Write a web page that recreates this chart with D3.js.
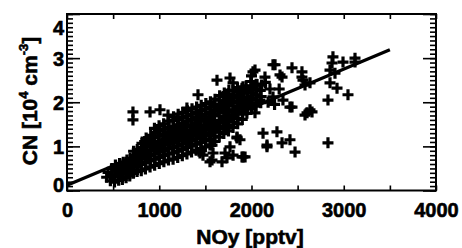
<!DOCTYPE html>
<html>
<head>
    <title>CN vs NOy</title>
    <script src="https://cdn.jsdelivr.net/npm/d3@7"></script>
    <meta charset="utf-8" />
    <style>
        body { margin: 0; background: #fff; }
        text { font-family: "Liberation Sans", Arial, sans-serif; font-weight: bold; fill: #000; stroke: #000; stroke-width: 0.6px; }
    </style>
</head>
<body>
    <script>
        // dense cloud of points along the fit [NOy pptv, CN 1e4 cm-3]
        var cloud = [
            [430,0.30],[445,0.41],[470,0.22],[485,0.35],[490,0.50],[515,0.19],[520,0.31],[530,0.44],[525,0.58],
            [560,0.23],[565,0.36],[555,0.49],[570,0.61],[600,0.25],[605,0.38],[595,0.52],[610,0.64],
            [640,0.29],[645,0.42],[635,0.55],[650,0.69],[680,0.33],[690,0.47],[675,0.60],[685,0.73],
            [720,0.39],[725,0.53],[715,0.65],[730,0.79],[722,0.89],
            [760,0.43],[765,0.57],[755,0.69],[770,0.81],[762,0.93],
            [805,0.45],[800,0.59],[810,0.71],[795,0.84],[805,0.97],[812,1.07],
            [850,0.49],[855,0.63],[845,0.75],[860,0.87],[850,0.99],[842,1.11],[858,1.19],
            [900,0.53],[905,0.67],[895,0.79],[910,0.91],[900,1.03],[892,1.15],[908,1.25],
            [950,0.57],[955,0.71],[945,0.83],[960,0.95],[950,1.07],[942,1.19],[958,1.31],[948,1.41],
            [1000,0.61],[1005,0.75],[995,0.87],[1010,0.99],[1000,1.11],[992,1.23],[1008,1.35],[998,1.47],
            [1050,0.65],[1055,0.79],[1045,0.91],[1060,1.03],[1050,1.15],[1042,1.27],[1058,1.39],[1048,1.51],
            [1100,0.69],[1105,0.83],[1095,0.95],[1110,1.07],[1100,1.19],[1092,1.31],[1108,1.43],[1098,1.57],
            [1150,0.71],[1155,0.85],[1145,0.97],[1160,1.09],[1150,1.21],[1142,1.33],[1158,1.45],[1148,1.59],[1155,1.67],
            [1200,0.75],[1205,0.89],[1195,1.01],[1210,1.13],[1200,1.25],[1192,1.37],[1208,1.49],[1198,1.61],[1205,1.73],
            [1250,0.79],[1255,0.93],[1245,1.05],[1260,1.17],[1250,1.29],[1242,1.41],[1258,1.53],[1248,1.65],[1255,1.77],
            [1300,0.83],[1305,0.97],[1295,1.09],[1310,1.21],[1300,1.33],[1292,1.45],[1308,1.57],[1298,1.69],[1305,1.81],
            [1350,0.87],[1355,1.01],[1345,1.13],[1360,1.25],[1350,1.37],[1342,1.49],[1358,1.61],[1348,1.73],[1355,1.85],
            [1400,0.91],[1405,1.05],[1395,1.17],[1410,1.29],[1400,1.41],[1392,1.53],[1408,1.65],[1398,1.77],[1405,1.89],
            [1450,0.95],[1455,1.09],[1445,1.21],[1460,1.33],[1450,1.45],[1442,1.57],[1458,1.69],[1448,1.81],[1455,1.93],
            [1500,0.99],[1505,1.13],[1495,1.25],[1510,1.37],[1500,1.49],[1492,1.61],[1508,1.73],[1498,1.85],[1505,1.97],
            [1550,1.03],[1555,1.17],[1545,1.29],[1560,1.41],[1550,1.53],[1542,1.65],[1558,1.77],[1548,1.89],[1555,2.01],
            [1600,1.11],[1605,1.23],[1595,1.35],[1610,1.47],[1600,1.59],[1592,1.71],[1608,1.83],[1598,1.95],[1605,2.07],
            [1650,1.21],[1655,1.33],[1645,1.45],[1660,1.57],[1650,1.69],[1642,1.81],[1658,1.93],[1648,2.05],[1655,2.15],
            [1700,1.29],[1705,1.41],[1695,1.53],[1710,1.65],[1700,1.77],[1692,1.89],[1708,2.01],[1698,2.13],[1705,2.21],
            [1750,1.35],[1755,1.47],[1745,1.59],[1760,1.71],[1750,1.83],[1742,1.95],[1758,2.07],[1748,2.19],[1755,2.27],
            [1800,1.43],[1805,1.55],[1795,1.67],[1810,1.79],[1800,1.91],[1792,2.03],[1808,2.15],[1798,2.27],
            [1850,1.51],[1855,1.63],[1845,1.75],[1860,1.87],[1850,1.99],[1842,2.11],[1858,2.23],[1848,2.33],
            [1900,1.61],[1905,1.73],[1895,1.85],[1910,1.97],[1900,2.09],[1892,2.21],[1908,2.35],
            [1950,1.75],[1955,1.87],[1945,1.99],[1960,2.11],[1950,2.23],[1942,2.37],
            [2000,1.85],[2005,1.97],[1995,2.09],[2010,2.21],[2000,2.33],[1992,2.47],
            [2050,1.91],[2055,2.05],[2045,2.17],[2060,2.29],[2050,2.41],
            [2100,1.99],[2105,2.13],[2095,2.27],[2110,2.39],
            // in-between fills of the densest part
            [975,0.93],[1025,1.05],[1075,1.17],[1125,1.25],[1175,1.39],[1225,1.31],[1275,1.47],[1325,1.15],
            [1375,1.43],[1425,1.61],[1475,1.27],[1525,1.55],[1575,1.73],[1625,1.41],[1675,1.87],[1725,1.59],
            [1775,2.01],[1825,1.83],[1875,2.15],[1925,1.93],[1975,2.05],[875,0.81],[825,0.93],[925,1.09],
            [775,0.63],[725,0.71],[625,0.47],[575,0.41]
        ];

        // scattered points away from the cloud
        var scatter = [
            [715,1.78],[715,1.60],[900,1.78],[1008,1.83],[1095,1.71],[1300,1.87],[1420,2.17],[1626,2.50],
            [1767,2.55],[1800,2.44],[2016,2.69],[1897,2.32],
            [1572,1.03],[1767,0.99],[1897,0.76],[1734,0.74],[1572,0.69],[1442,0.85],[1843,1.19],[1474,0.80],
            [1583,0.85],[1713,0.85],[1800,0.80],[1908,0.76],[1550,0.65],[1680,0.65],[1843,1.21],
            [2038,2.73],[2146,2.57],[2233,2.85],[2309,2.62],[2439,2.78],[2547,2.57],[2580,2.39],[2634,2.44],
            [1951,2.28],[2092,2.05],[2233,2.12],[2341,2.05],[2439,1.89],[2602,1.76],[2634,1.83],[2038,1.76],
            [2883,3.03],[2851,2.73],[2905,2.66],[2992,2.91],[3122,2.91],[2851,2.44],[2927,2.32],[3046,2.17],
            [2829,2.05],[2125,1.30],[2276,1.33],[2168,1.03],[2331,1.08],[2417,1.15],[2472,0.87],[2829,1.08],
            [1930,0.76],[1875,1.15],[2255,2.85],[2331,2.57],[2547,2.69],[2558,2.50],[2873,2.89],[3122,3.00],
            [2000,2.60],[2060,2.40],[2150,2.45],[2200,2.30],[2180,2.00],[2250,1.95],[2300,2.30],[2580,1.71],
            [2656,1.78],[2417,1.89],[2168,0.99]
        ];

        // regression line end points
        var fitNoy = [0, 3500];
        var fitCn = [0.12, 3.19];

        var xTicks = [0, 500, 1000, 1500, 2000, 2500, 3000, 3500, 4000];
        var yMajor = [0, 1, 2, 3, 4];
        var yMinor = d3.range(0, 41).map(function (i) { return i / 10; });

        var width = 462;
        var height = 248;
        var plotLeft = 67, plotRight = 436, plotTop = 14, plotBottom = 190.5;

        var x = d3.scaleLinear().domain([0, 4000]).range([plotLeft, plotRight]);
        var y = d3.scaleLinear().domain([0, 4]).range([plotBottom, plotTop]);

        var svg = d3.select("body")
            .append("svg")
            .attr("width", width)
            .attr("height", height);

        svg.append("rect").attr("width", width).attr("height", height).attr("fill", "#fff");

        // points
        var plus = "M-5.5,0H5.5M0,-5.5V5.5";
        svg.append("g")
            .selectAll("path")
            .data(cloud.concat(scatter)).enter()
            .append("path")
            .attr("d", plus)
            .attr("transform", function (d) { return "translate(" + x(d[0]) + "," + y(d[1]) + ")"; })
            .attr("stroke", "#000")
            .attr("stroke-width", 3.2)
            .attr("fill", "none");

        // fit line
        var line = d3.line()
            .x(function (d) { return x(d[0]); })
            .y(function (d) { return y(d[1]); });
        svg.append("path")
            .datum(d3.zip(fitNoy, fitCn))
            .attr("d", line)
            .attr("stroke", "#000")
            .attr("stroke-width", 3.2)
            .attr("fill", "none");

        // axes
        function style(g) {
            g.select(".domain").remove();
            g.selectAll("line").attr("stroke", "#000").attr("stroke-width", 1.6);
            g.selectAll("text").attr("font-size", 20).attr("font-family", null).attr("fill", "#000");
        }

        svg.append("g")
            .attr("transform", "translate(0," + plotBottom + ")")
            .call(d3.axisBottom(x).tickValues(xTicks).tickSizeInner(-5).tickSizeOuter(0).tickPadding(12)
                .tickFormat(function (d) { return d % 1000 === 0 ? d : ""; }))
            .call(style);

        svg.append("g")
            .attr("transform", "translate(0," + plotTop + ")")
            .call(d3.axisTop(x).tickValues(xTicks).tickSizeInner(-5).tickSizeOuter(0).tickFormat(""))
            .call(style);

        svg.append("g")
            .attr("transform", "translate(" + plotLeft + ",0)")
            .call(d3.axisLeft(y).tickValues(yMinor).tickSizeInner(-6).tickSizeOuter(0).tickFormat(""))
            .call(style);

        var yl = svg.append("g")
            .attr("transform", "translate(" + plotLeft + ",0)")
            .call(d3.axisLeft(y).tickValues(yMajor).tickSizeInner(-13).tickSizeOuter(0).tickPadding(3)
                .tickFormat(d3.format("d")))
            .call(style);
        yl.selectAll("text").attr("dy", function (d) {
            return d === 4 ? "1.0em" : d === 0 ? "0.05em" : "0.36em";
        });

        svg.append("g")
            .attr("transform", "translate(" + plotRight + ",0)")
            .call(d3.axisRight(y).tickValues(yMinor).tickSizeInner(-6).tickSizeOuter(0).tickFormat(""))
            .call(style);

        svg.append("g")
            .attr("transform", "translate(" + plotRight + ",0)")
            .call(d3.axisRight(y).tickValues(yMajor).tickSizeInner(-13).tickSizeOuter(0).tickFormat(""))
            .call(style);

        // frame
        svg.append("rect")
            .attr("x", plotLeft).attr("y", plotTop)
            .attr("width", plotRight - plotLeft).attr("height", plotBottom - plotTop)
            .attr("fill", "none").attr("stroke", "#000").attr("stroke-width", 2);

        // titles
        svg.append("text")
            .attr("x", 250)
            .attr("y", 244)
            .attr("text-anchor", "middle")
            .attr("font-size", 21)
            .text("NOy [pptv]");

        var yt = svg.append("text")
            .attr("transform", "translate(37,101) rotate(-90)")
            .attr("text-anchor", "middle")
            .attr("font-size", 21);
        yt.append("tspan").text("CN [10");
        yt.append("tspan").attr("font-size", 13).attr("dy", -9).text("4");
        yt.append("tspan").attr("dy", 9).text(" cm");
        yt.append("tspan").attr("font-size", 13).attr("dy", -9).text("-3");
        yt.append("tspan").attr("dy", 9).text("]");
    </script>
</body>
</html>
